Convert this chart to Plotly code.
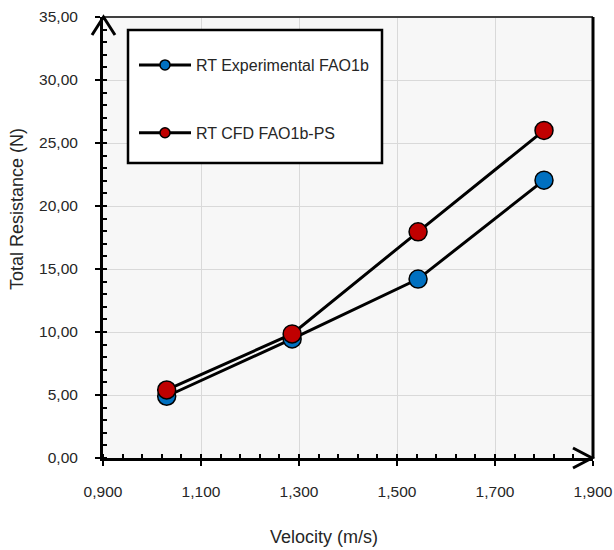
import plotly.graph_objects as go

velocity = [1.030, 1.286, 1.543, 1.800]
rt_experimental = [4.90, 9.45, 14.20, 22.05]
rt_cfd = [5.40, 9.85, 17.95, 26.00]
series_names = ["RT Experimental FAO1b", "RT CFD FAO1b-PS"]
x_ticks = [0.9, 1.1, 1.3, 1.5, 1.7, 1.9]
y_ticks = [0, 5, 10, 15, 20, 25, 30, 35]
x_title = "Velocity (m/s)"
y_title = "Total Resistance (N)"

BLUE = "#0070C0"
RED = "#C00000"
FONT = "Liberation Sans, Arial, sans-serif"
TXT = "#262626"

fig = go.Figure()
for ys, col in [(rt_experimental, BLUE), (rt_cfd, RED)]:
    fig.add_trace(go.Scatter(
        x=velocity, y=ys, mode="lines+markers", showlegend=False,
        line=dict(color="black", width=3),
        marker=dict(size=18, color=col, line=dict(color="black", width=1.5)),
    ))
# legend entries (small markers like the reference)
for i, (name, col) in enumerate(zip(series_names, [BLUE, RED])):
    fig.add_trace(go.Scatter(
        x=[None], y=[None], mode="lines+markers", name=name,
        legendgroup=f"g{i}",
        line=dict(color="black", width=3),
        marker=dict(size=10, color=col, line=dict(color="black", width=1.5)),
    ))

axis_common = dict(
    showline=True, linecolor="black", linewidth=3,
    showgrid=True, gridcolor="#d9d9d9", gridwidth=1,
    ticks="outside", ticklen=5, tickwidth=2, tickcolor="black",
    zeroline=False, automargin=False,
    tickfont=dict(family=FONT, size=15.5, color=TXT),
)

fig.update_xaxes(
    range=[0.9, 1.9], tickvals=x_ticks, tickformat=".3f",
    minor=dict(dtick=0.04, tick0=0.9, ticks="inside", ticklen=4, tickwidth=2,
               tickcolor="black", showgrid=False),
    ticklabelstandoff=12,
    **axis_common,
)
fig.update_yaxes(
    range=[0, 35], tickvals=y_ticks, tickformat=".2f",
    minor=dict(dtick=1, tick0=0, ticks="inside", ticklen=4, tickwidth=2,
               tickcolor="black", showgrid=False),
    ticklabelstandoff=14,
    **axis_common,
)

W, H = 614, 550
L, R, T, B = 103, 21, 17, 92
pw, ph = W - L - R, H - T - B

def px(x):
    return (x - L) / pw

def py(y):
    return (H - B - y) / ph

shapes = [
    # top border
    dict(type="line", xref="paper", yref="paper", x0=0, x1=1, y0=1, y1=1,
         line=dict(color="#404040", width=2)),
    # right border
    dict(type="line", xref="paper", yref="paper", x0=1, x1=1, y0=0, y1=1,
         line=dict(color="black", width=3)),
    # y-axis arrow head
    dict(type="path", xref="paper", yref="paper",
         path=f"M {px(92)},{py(35)} L {px(103.5)},{py(17)} L {px(115)},{py(35)}",
         line=dict(color="black", width=3)),
    # x-axis arrow head
    dict(type="path", xref="paper", yref="paper",
         path=f"M {px(573)},{py(448)} L {px(592)},{py(458)} L {px(573)},{py(468)}",
         line=dict(color="black", width=3)),
    # legend box
    dict(type="rect", xref="paper", yref="paper",
         x0=px(128), x1=px(382), y0=py(163), y1=py(30),
         fillcolor="white", line=dict(color="black", width=2.5), layer="above"),
]

annotations = [
    dict(text=x_title, xref="paper", yref="paper", x=px(324), y=py(537),
         xanchor="center", yanchor="middle", showarrow=False,
         font=dict(family=FONT, size=18, color=TXT)),
    dict(text=y_title, xref="paper", yref="paper", x=px(17), y=py(209),
         xanchor="center", yanchor="middle", showarrow=False, textangle=-90,
         font=dict(family=FONT, size=18, color=TXT)),
]

fig.update_layout(
    width=W, height=H,
    margin=dict(l=L, r=R, t=T, b=B),
    paper_bgcolor="white", plot_bgcolor="#f7f7f7",
    separators=",.",
    font=dict(family=FONT, size=15, color=TXT),
    shapes=shapes,
    annotations=annotations,
    legend=dict(
        x=px(134), y=py(48), xanchor="left", yanchor="top",
        bgcolor="rgba(0,0,0,0)", borderwidth=0,
        font=dict(family=FONT, size=16, color=TXT),
        tracegroupgap=44, itemwidth=52,
    ),
)

fig.write_html("out.html")
